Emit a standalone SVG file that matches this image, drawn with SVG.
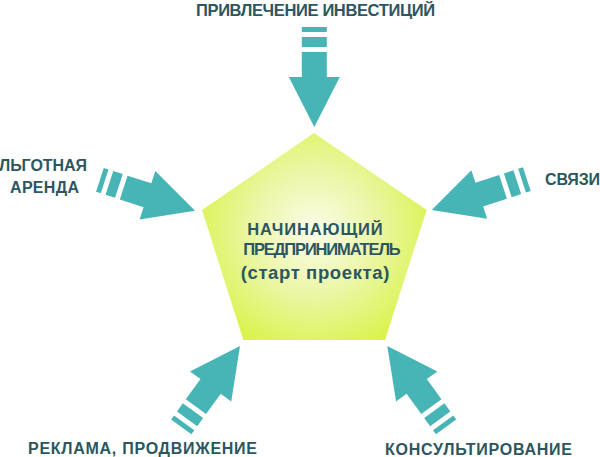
<svg xmlns="http://www.w3.org/2000/svg" xmlns:xlink="http://www.w3.org/1999/xlink" width="600" height="457" viewBox="0 0 600 457">
<style>
.lbl{font-family:"Liberation Sans","DejaVu Sans",sans-serif;font-weight:bold;fill:#2c5660}
.arr{fill:#47b5b6}
</style>
<defs>
<radialGradient id="pg" gradientUnits="userSpaceOnUse" cx="314" cy="232" r="135">
<stop offset="0" stop-color="#fbfdea"/>
<stop offset="0.45" stop-color="#ecf6a8"/>
<stop offset="1" stop-color="#d8f23e"/>
</radialGradient>
<g id="arrow" class="arr">
<polygon points="0,0 -25.5,-50 -12.5,-50 -12.5,-75 12.5,-75 12.5,-50 25.5,-50"/>
<rect x="-12.5" y="-90" width="25" height="10"/>
<rect x="-12.5" y="-100" width="25" height="5"/>
</g>
</defs>
<rect width="600" height="457" fill="#ffffff"/>
<g id="start">
<polygon points="314,133 426.7,210 385,340 243.3,340 202,210" fill="url(#pg)"/>
<text class="lbl" font-size="16.5" x="247.3" y="234.5" textLength="135.4">НАЧИНАЮЩИЙ</text>
<text class="lbl" font-size="16.5" x="243.3" y="255.2" textLength="157.4">ПРЕДПРИНИМАТЕЛЬ</text>
<text class="lbl" font-size="18.5" x="240.7" y="278.5" textLength="148.6">(старт проекта)</text>
</g>
<g id="connectors">
<use xlink:href="#arrow" href="#arrow" transform="translate(314.3,127)"/>
<use xlink:href="#arrow" href="#arrow" transform="translate(195,210.7) rotate(-72)"/>
<use xlink:href="#arrow" href="#arrow" transform="translate(431.7,210) rotate(72)"/>
<use xlink:href="#arrow" href="#arrow" transform="translate(240,346) rotate(-144)"/>
<use xlink:href="#arrow" href="#arrow" transform="translate(387.3,346) rotate(144)"/>
</g>
<g id="investments">
<text class="lbl" font-size="16.5" x="196" y="15.8" textLength="239">ПРИВЛЕЧЕНИЕ ИНВЕСТИЦИЙ</text>
</g>
<g id="rent">
<text class="lbl" font-size="16" x="-1" y="170.8" textLength="88">ЛЬГОТНАЯ</text>
<text class="lbl" font-size="16" x="10" y="193.3" textLength="69">АРЕНДА</text>
</g>
<g id="links">
<text class="lbl" font-size="16" x="545" y="185" textLength="55">СВЯЗИ</text>
</g>
<g id="advertising">
<text class="lbl" font-size="16" x="28" y="453.5" textLength="229">РЕКЛАМА, ПРОДВИЖЕНИЕ</text>
</g>
<g id="consulting">
<text class="lbl" font-size="16" x="385" y="455" textLength="187">КОНСУЛЬТИРОВАНИЕ</text>
</g>
</svg>
